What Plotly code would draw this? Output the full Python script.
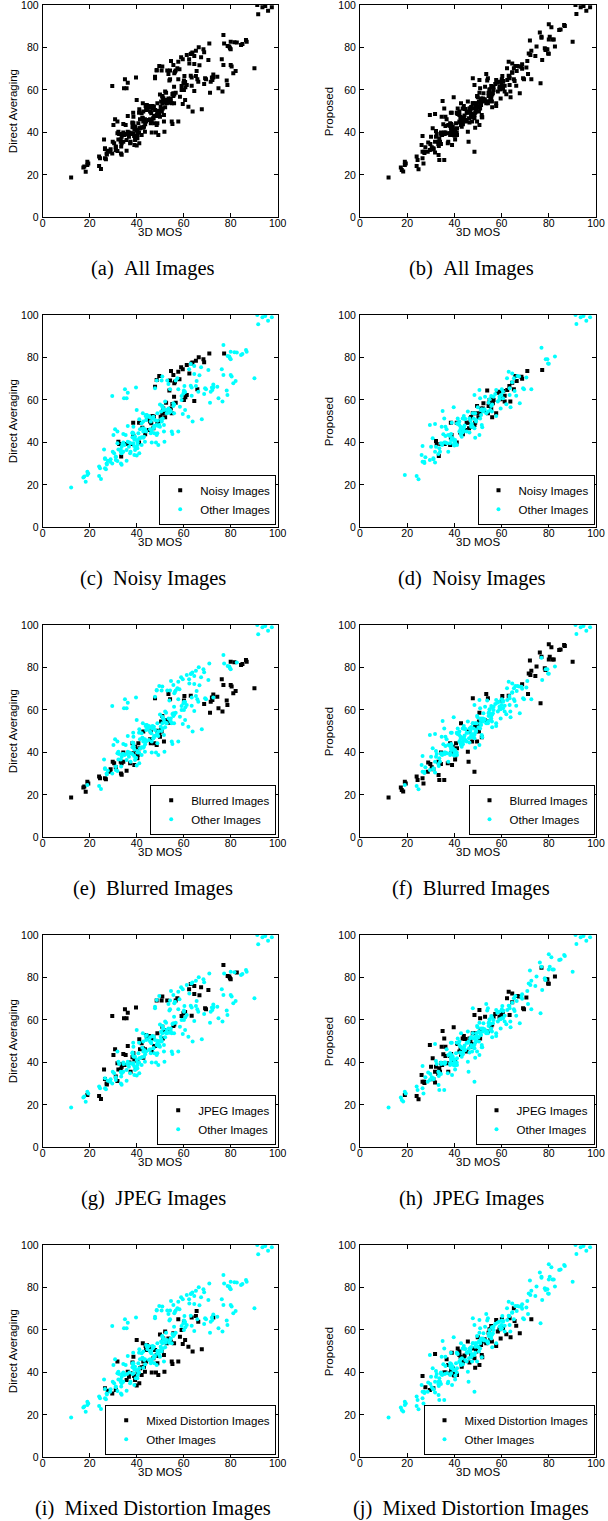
import plotly.graph_objects as go

W, H = 608, 1521

# ---------------- data (3D MOS, Direct Averaging, Proposed) ----------------
noisy_mos = [32.2, 32.5, 33.4, 34.4, 35.9, 38.2, 38.5, 38.8, 38.5, 41.0, 41.0, 42.4, 43.2, 43.6, 44.6, 45.2, 45.7, 46.2, 46.7, 47.1,
             47.3, 47.8, 48.5, 48.8, 49.3, 49.6, 50.2, 50.9, 51.3, 52.1, 52.3, 52.5, 53.9, 54.2, 54.5, 54.6, 54.9, 55.2, 55.6, 55.9,
             56.0, 56.3, 56.6, 57.7, 58.2, 58.9, 59.6, 60.1, 60.7, 61.3, 61.3, 62.4, 63.3, 63.7, 64.5, 65.2, 65.8, 66.4, 68.4, 68.7,
             70.9, 77.2]
noisy_da = [40.3, 39.2, 33.3, 39.2, 39.2, 39.2, 43.0, 42.6, 49.3, 49.3, 39.9, 46.9, 45.8, 43.8, 50.9, 45.8, 49.8, 49.0, 52.4, 46.6,
            52.1, 66.2, 69.4, 49.0, 50.0, 71.3, 52.1, 53.7, 56.0, 51.8, 54.0, 58.7, 64.4, 69.1, 56.0, 73.6, 53.7, 58.1, 71.7, 61.5,
            67.8, 68.6, 58.7, 73.3, 69.7, 75.4, 74.4, 60.0, 61.2, 62.3, 76.5, 72.5, 77.2, 77.6, 59.5, 78.5, 65.0, 80.1, 79.1, 77.7,
            81.9, 81.9]
noisy_prop = [40.7, 39.2, 33.6, 39.2, 39.2, 38.8, 42.2, 43.5, 49.3, 49.3, 39.9, 44.6, 46.6, 43.8, 45.8, 49.3, 49.3, 46.6, 51.3, 52.0,
              47.4, 53.7, 48.2, 49.3, 53.7, 57.1, 51.8, 53.7, 56.0, 56.0, 58.4, 55.0, 64.4, 53.7, 57.1, 58.4, 60.0, 58.1, 56.0, 61.2,
              51.8, 58.4, 60.0, 53.7, 63.4, 63.9, 60.3, 60.8, 64.2, 59.2, 62.0, 64.7, 66.6, 59.2, 68.1, 65.0, 71.3, 68.9, 70.9, 70.0,
              73.6, 74.1]

blur_mos = [12.1, 17.3, 17.7, 18.3, 19.0, 19.4, 24.0, 24.4, 26.5, 26.9, 28.7, 28.9, 29.8, 30.4, 31.1, 33.2, 33.3, 33.6, 33.6, 34.3,
            34.3, 35.7, 37.2, 38.2, 38.6, 39.0, 39.3, 40.0, 40.3, 40.4, 40.7, 41.1, 42.8, 45.7, 46.0, 46.0, 47.5, 47.8, 48.5, 48.8,
            49.6, 49.9, 50.4, 50.6, 50.4, 50.9, 51.6, 52.8, 53.5, 53.8, 54.2, 60.1, 60.3, 63.0, 68.7, 71.2, 71.5, 72.2, 72.6, 74.3,
            74.8, 76.2, 76.5, 76.9, 78.3, 78.6, 80.0, 80.4, 80.0, 81.1, 81.6, 82.1, 84.4, 85.0, 86.5, 86.8, 90.1, 72.0]
blur_da = [18.8, 23.5, 23.9, 21.5, 26.2, 25.4, 28.6, 27.8, 27.8, 27.3, 30.9, 32.0, 35.6, 34.9, 33.0, 35.6, 30.1, 34.9, 29.5, 35.6,
           39.9, 31.4, 34.9, 44.3, 39.6, 34.1, 42.7, 41.1, 37.2, 38.8, 44.3, 41.9, 49.8, 46.2, 44.3, 49.8, 44.3, 65.5, 43.5, 50.2,
           48.2, 47.4, 50.9, 49.8, 54.5, 57.1, 45.1, 55.3, 67.5, 54.0, 65.0, 64.4, 66.6, 66.7, 62.8, 58.7, 63.9, 64.7, 67.3, 66.2,
           60.8, 74.4, 59.2, 71.7, 64.4, 62.3, 71.7, 71.0, 82.7, 67.8, 82.4, 68.9, 81.2, 81.6, 83.5, 82.7, 70.2, 65.8]
blur_prop = [18.8, 23.5, 22.3, 21.6, 26.2, 25.4, 28.6, 27.0, 27.8, 25.4, 30.9, 35.2, 34.5, 33.0, 32.0, 35.6, 29.4, 34.9, 27.0, 34.5,
             39.9, 27.0, 34.9, 44.3, 39.6, 34.1, 42.7, 41.1, 36.7, 38.5, 44.3, 41.9, 53.7, 40.3, 35.6, 49.8, 45.1, 65.5, 30.9, 52.1,
             45.1, 52.1, 49.8, 58.7, 54.5, 54.0, 47.1, 55.3, 67.5, 54.5, 65.5, 64.4, 66.6, 66.7, 72.1, 67.5, 77.2, 76.5, 78.5, 76.0,
             80.4, 87.1, 63.1, 85.1, 79.6, 78.8, 90.9, 85.1, 83.8, 89.5, 83.8, 83.8, 88.2, 88.5, 90.6, 90.1, 82.7, 83.3]

jpeg_mos = [19.0, 24.0, 24.8, 26.1, 26.5, 27.2, 27.3, 29.6, 30.1, 30.8, 31.1, 31.8, 31.8, 32.2, 33.2, 33.6, 33.9, 34.3, 34.6, 34.8,
            35.0, 35.3, 35.7, 36.2, 36.2, 36.9, 37.4, 38.2, 38.6, 39.0, 39.6, 39.7, 40.3, 41.1, 41.4, 42.1, 42.6, 42.8, 43.5, 44.0,
            44.3, 44.7, 45.2, 46.4, 46.8, 47.1, 47.4, 47.8, 48.5, 48.8, 50.6, 50.9, 50.9, 51.1, 51.6, 53.0, 54.2, 55.6, 56.0, 56.6,
            57.3, 59.1, 59.9, 60.6, 62.3, 63.0, 63.4, 64.5, 64.5, 66.7, 67.4, 69.1, 69.5, 70.5, 76.9, 78.7, 79.4, 79.7, 80.0, 82.6]
jpeg_da = [24.6, 24.2, 22.8, 36.7, 32.2, 30.1, 29.6, 61.9, 43.5, 46.2, 33.3, 31.2, 39.6, 36.7, 36.7, 38.0, 39.2, 44.0, 60.8, 38.8,
           65.0, 43.5, 60.8, 63.4, 47.7, 39.9, 35.6, 42.4, 44.3, 41.4, 37.2, 65.9, 40.7, 50.9, 46.2, 49.0, 46.6, 42.2, 46.2, 52.9,
           52.1, 52.1, 52.4, 45.1, 51.3, 52.1, 47.7, 47.7, 69.1, 53.7, 69.1, 71.0, 56.8, 51.3, 55.3, 69.1, 55.3, 57.1, 57.9, 69.1,
           70.2, 61.9, 63.1, 63.7, 74.4, 76.9, 62.0, 72.2, 76.0, 71.6, 75.4, 65.5, 65.0, 74.1, 85.9, 80.7, 80.4, 79.6, 79.1, 82.3]
jpeg_prop = [24.6, 24.2, 22.6, 34.1, 30.9, 30.9, 30.3, 48.2, 38.0, 41.9, 32.0, 30.5, 35.6, 38.0, 34.5, 37.2, 35.6, 39.6, 47.4, 38.8,
             54.8, 43.8, 51.3, 47.4, 43.0, 39.6, 35.6, 43.0, 44.0, 41.9, 41.1, 56.5, 41.1, 49.0, 48.7, 45.1, 46.2, 43.5, 51.3, 52.4,
             51.0, 51.0, 45.1, 51.3, 50.2, 47.4, 48.7, 53.7, 62.3, 53.7, 64.7, 60.8, 51.3, 55.3, 55.6, 61.5, 54.5, 57.1, 57.9, 61.5,
             62.8, 61.5, 62.3, 63.9, 70.2, 73.3, 62.3, 68.3, 72.5, 71.3, 71.0, 65.5, 65.0, 70.6, 84.6, 79.1, 79.1, 77.2, 77.0, 80.4]

mixed_mos = [26.5, 27.7, 29.6, 31.1, 31.8, 35.7, 36.2, 36.7, 37.4, 38.2, 38.6, 38.9, 39.3, 39.7, 40.0, 40.0, 40.4, 41.1, 41.4, 42.1,
             42.1, 42.6, 42.8, 43.1, 43.5, 43.8, 44.0, 44.0, 44.3, 45.7, 46.4, 47.1, 47.8, 48.2, 48.5, 48.8, 49.2, 49.2, 49.9, 50.6,
             51.3, 51.6, 51.8, 52.1, 52.8, 53.5, 54.5, 54.9, 55.2, 55.6, 55.9, 57.7, 57.7, 58.4, 59.1, 59.6, 60.1, 60.6, 62.0, 63.4,
             63.8, 65.2, 65.5, 66.2, 67.7, 72.6]
mixed_da = [32.5, 31.4, 30.1, 31.7, 45.1, 36.4, 40.3, 38.0, 39.6, 44.6, 47.4, 38.3, 36.4, 37.5, 55.3, 33.8, 39.9, 34.9, 41.9, 42.4,
            38.8, 53.7, 45.1, 42.7, 40.3, 52.4, 50.5, 45.1, 52.9, 51.8, 39.9, 46.6, 50.5, 39.9, 48.2, 44.3, 38.8, 47.7, 57.9, 50.1,
            56.0, 48.2, 40.3, 59.2, 53.7, 56.0, 54.5, 45.1, 44.0, 58.4, 53.7, 45.1, 65.0, 56.8, 60.0, 53.4, 63.9, 55.3, 52.1, 65.8,
            49.8, 66.6, 68.9, 63.9, 50.9, 65.8]
mixed_prop = [38.3, 33.0, 31.7, 32.5, 48.7, 39.9, 39.9, 46.2, 43.5, 39.6, 41.1, 49.3, 41.9, 38.8, 39.9, 38.5, 39.9, 38.8, 51.3, 48.2,
              49.8, 47.4, 44.3, 42.7, 44.6, 46.6, 45.5, 47.0, 48.0, 54.5, 44.6, 48.2, 47.4, 51.3, 46.6, 42.2, 50.5, 49.8, 56.5, 43.5,
              52.9, 48.2, 47.1, 54.5, 55.6, 53.7, 58.7, 60.3, 55.3, 61.9, 54.5, 52.4, 64.7, 59.2, 60.3, 56.0, 65.0, 60.8, 58.0, 65.5,
              56.5, 70.2, 64.2, 62.0, 58.4, 65.0]

other_mos = [91.3, 91.7, 93.5, 94.7, 95.9, 97.5]
other_da = [100.0, 95.6, 98.9, 99.5, 97.3, 98.9]
other_prop = [100.0, 95.8, 98.9, 99.5, 97.3, 98.9]

tick_vals = [0, 20, 40, 60, 80, 100]
tick_text = ["0", "20", "40", "60", "80", "100"]

cats = {
    "noisy": (noisy_mos, noisy_da, noisy_prop),
    "blurred": (blur_mos, blur_da, blur_prop),
    "jpeg": (jpeg_mos, jpeg_da, jpeg_prop),
    "mixed": (mixed_mos, mixed_da, mixed_prop),
    "other": (other_mos, other_da, other_prop),
}
cat_order = ["noisy", "blurred", "jpeg", "mixed", "other"]

# rows: (highlight category, legend label, caption text)
rows = [
    (None, None, "All Images"),
    ("noisy", "Noisy Images", "Noisy Images"),
    ("blurred", "Blurred Images", "Blurred Images"),
    ("jpeg", "JPEG Images", "JPEG Images"),
    ("mixed", "Mixed Distortion Images", "Mixed Distortion Images"),
]
letters = "abcdefghij"
ylabels = ["Direct Averaging", "Proposed"]
metric_idx = [1, 2]

# ---------------- layout geometry (pixels) ----------------
col_x = [(42.7, 277.7), (360.0, 596.0)]
row_top = [5.0, 315.0, 625.0, 935.0, 1245.0]
plot_h = 212.3
cap_x = [153, 471]
ylab_x = [13, 329]

TICK_FONT = dict(family="Liberation Sans, Arial, sans-serif", size=10.5, color="#000000")
LAB_FONT = dict(family="Liberation Sans, Arial, sans-serif", size=11.5, color="#000000")
CAP_FONT = dict(family="Liberation Serif, Times New Roman, serif", size=20.5, color="#000000")

fig = go.Figure()
layout = dict(width=W, height=H, margin=dict(l=0, r=0, t=0, b=0, autoexpand=False),
              paper_bgcolor="white", plot_bgcolor="white", showlegend=True, template="none")
annotations = []

def gather(keys, m):
    xs, ys = [], []
    for k in keys:
        xs += cats[k][0]
        ys += cats[k][m]
    return xs, ys

axis_common = dict(range=[0, 100], tickvals=tick_vals, ticktext=tick_text, ticks="inside", ticklen=4,
                   tickwidth=1, tickcolor="black", showline=True, linecolor="black", linewidth=1,
                   mirror="ticks", showgrid=False, zeroline=False, tickfont=TICK_FONT, automargin=False,
                   ticklabeloverflow="allow")

legend_count = 0
for r, (hl, lname, caption) in enumerate(rows):
    for c in range(2):
        k = r * 2 + c
        s = "" if k == 0 else str(k + 1)
        m = metric_idx[c]
        x0, x1 = col_x[c]
        top = row_top[r]
        bot = top + plot_h
        layout["xaxis" + s] = dict(domain=[x0 / W, x1 / W], anchor="y" + s, ticklabelstandoff=-4, **axis_common)
        layout["yaxis" + s] = dict(domain=[1 - bot / H, 1 - top / H], anchor="x" + s, ticklabelstandoff=1, **axis_common)
        if hl is None:
            xs, ys = gather(cat_order, m)
            fig.add_trace(go.Scatter(x=xs, y=ys, mode="markers", xaxis="x" + s, yaxis="y" + s,
                                     marker=dict(symbol="square", size=4, color="black", line=dict(width=0)),
                                     showlegend=False, hoverinfo="skip"))
        else:
            legend_count += 1
            lid = "legend" if legend_count == 1 else "legend%d" % legend_count
            others = [q for q in cat_order if q != hl]
            if hl == "noisy" and c == 1:
                others = [q for q in others if q != "blurred"]
            hx, hy = gather([hl], m)
            ox, oy = gather(others, m)
            fig.add_trace(go.Scatter(x=hx, y=hy, mode="markers", xaxis="x" + s, yaxis="y" + s,
                                     name=lname, legend=lid,
                                     marker=dict(symbol="square", size=4, color="black", line=dict(width=0)),
                                     hoverinfo="skip"))
            fig.add_trace(go.Scatter(x=ox, y=oy, mode="markers", xaxis="x" + s, yaxis="y" + s,
                                     name="Other Images", legend=lid,
                                     marker=dict(symbol="circle", size=4, color="#00FFFF", line=dict(width=0)),
                                     hoverinfo="skip"))
            layout[lid] = dict(x=(x1 - 1.5) / W, y=1 - (bot - 2.5) / H, xanchor="right", yanchor="bottom",
                               bgcolor="white", bordercolor="black", borderwidth=1,
                               font=dict(family="Liberation Sans, Arial, sans-serif", size=11.5, color="black"),
                               tracegroupgap=0, itemwidth=30)
        # axis titles
        annotations.append(dict(text="3D MOS", x=(x0 + x1) / 2 / W, y=1 - (bot + 15) / H,
                                xref="paper", yref="paper", showarrow=False, font=LAB_FONT,
                                xanchor="center", yanchor="middle"))
        annotations.append(dict(text=ylabels[c], x=ylab_x[c] / W, y=1 - (top + plot_h / 2) / H,
                                xref="paper", yref="paper", showarrow=False, font=LAB_FONT, textangle=-90,
                                xanchor="center", yanchor="middle"))
        annotations.append(dict(text="(%s)\u00a0\u00a0%s" % (letters[k], caption), x=cap_x[c] / W,
                                y=1 - (bot + 51) / H, xref="paper", yref="paper", showarrow=False,
                                font=CAP_FONT, xanchor="center", yanchor="middle"))

layout["annotations"] = annotations
fig.update_layout(**layout)
fig.write_html("out.html", config={"displayModeBar": False},
               post_script="document.body.style.margin='0';document.body.style.overflow='hidden';")
